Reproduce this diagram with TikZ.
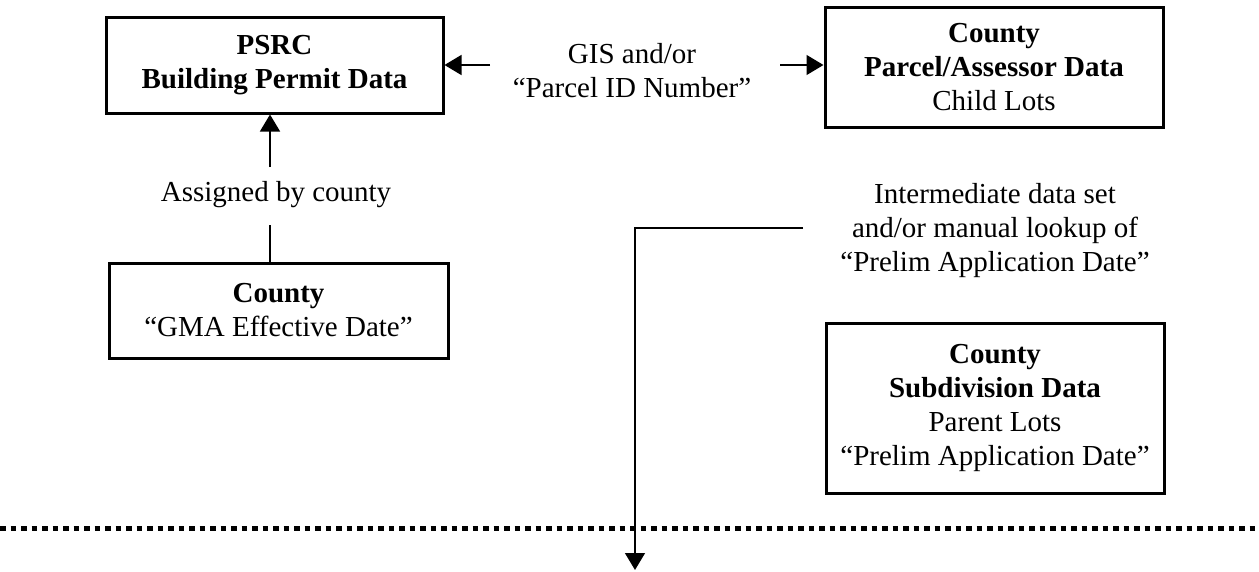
\documentclass[tikz,border=0pt]{standalone}
\usepackage{fontspec}
\setmainfont{Liberation Serif}
\usetikzlibrary{arrows.meta}
\begin{document}
\begin{tikzpicture}[x=1pt,y=-1pt,
  every node/.style={font=\fontsize{29}{34}\selectfont, align=center, inner sep=0pt},
  databox/.style={draw, line width=3pt, minimum width=#1},
  conn/.style={line width=1.5pt},
  arr/.style={conn, -{Triangle[length=17pt,width=20pt]}},
  sep/.style={line width=5pt, dash pattern=on 5.5pt off 5pt}]
\useasboundingbox (0,0) rectangle (1259,571);
% boxes
\node[databox=337pt, minimum height=96pt] (psrc) at (274.5,65) {\textbf{PSRC}\\\textbf{Building Permit Data}};
\node[databox=338pt, minimum height=120pt] (parcel) at (994,67) {\textbf{County}\\\textbf{Parcel/Assessor Data}\\Child Lots};
\node[databox=339pt, minimum height=95pt] (gma) at (278.5,310.5) {\textbf{County}\\``GMA Effective Date''};
\node[databox=338pt, minimum height=170pt] (subdiv) at (995,408) {\textbf{County}\\\textbf{Subdivision Data}\\Parent Lots\\``Prelim Application Date''};
% labels
\node (gis) at (632,71) {GIS and/or\\``Parcel ID Number''};
\node (assigned) at (276,195) {Assigned by county};
\node (inter) at (995,231) {Intermediate data set\\and/or manual lookup of\\``Prelim Application Date''};
% free ends
\coordinate (gl) at (490,65);
\coordinate (gr) at (780,65);
\coordinate (au) at (270,167);
\coordinate (ad) at (270,225);
\coordinate (ia) at (803,228);
\coordinate (ib) at (635,570);
% connectors
\draw[arr] (gl) -- (psrc.east |- gl);
\draw[arr] (gr) -- (parcel.west |- gr);
\draw[arr] (au) -- (psrc.south -| au);
\draw[conn] (ad) -- (gma.north -| ad);
\draw[arr] (ia) -| (ib);
% separator
\draw[sep] (0,528) -- (1259,528);
\end{tikzpicture}
\end{document}
